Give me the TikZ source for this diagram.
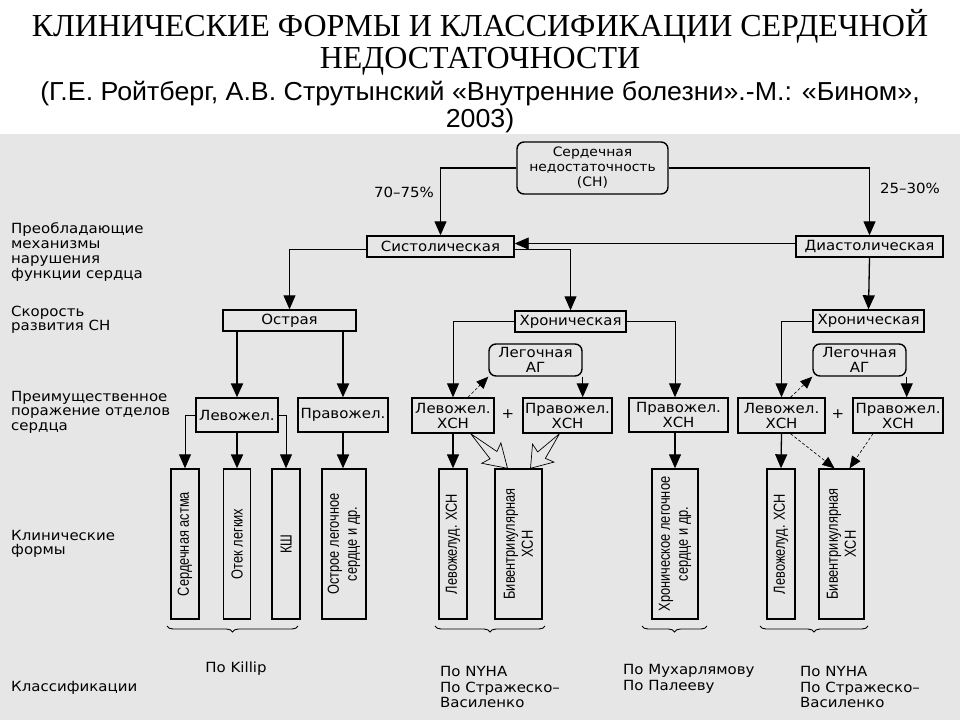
\documentclass[tikz,border=0pt]{standalone}
\usepackage{fontspec}
\setmainfont{Liberation Serif}
\newfontfamily\gothic[FakeStretch=1.07]{DejaVu Sans}
\newfontfamily\narrowf[FakeStretch=0.8]{Liberation Sans}
\newfontfamily\subf[FakeStretch=1.03]{Liberation Sans}
\usetikzlibrary{arrows.meta,calc,decorations.pathreplacing}
\definecolor{bggray}{RGB}{230,230,230}
\tikzset{
 box/.style={draw, line width=1.4pt, inner sep=0pt, font=\gothic\fontsize{14}{15}\selectfont, align=center},
 rbox/.style={box, rounded corners=7pt},
 vbox/.style={draw, line width=1.4pt, minimum height=150pt, inner sep=0pt},
 arr/.style={line width=1.3pt, -{Triangle[width=12pt,length=14pt]}},
 thickarr/.style={line width=2.2pt, -{Triangle[width=12pt,length=14pt]}},
 thinarr/.style={line width=0.9pt, -{Triangle[width=12pt,length=14pt]}},
 darr/.style={line width=0.6pt, densely dashed, -{Triangle[width=10pt,length=12pt]}},
 hollow/.style={line width=0.7pt, line join=miter},
 lbl/.style={font=\gothic\fontsize{14}{14.5}\selectfont, align=left, anchor=west, inner sep=0pt},
 vtext/.style={font=\narrowf\fontsize{16}{18}\selectfont, rotate=90, align=center, inner sep=0pt},
 curly/.style={decorate, decoration={brace, mirror, amplitude=6pt}, line width=0.9pt},
}
\begin{document}
\begin{tikzpicture}[x=1pt,y=-1pt]
\useasboundingbox (0,0) rectangle (960,720);
\fill[bggray] (0,134) rectangle (960,720);

% header
\node[anchor=base, inner sep=0pt, font=\fontsize{32}{36}\selectfont] (h1) at (480,36) {КЛИНИЧЕСКИЕ ФОРМЫ И КЛАССИФИКАЦИИ СЕРДЕЧНОЙ};
\node[anchor=base, inner sep=0pt, font=\fontsize{32}{36}\selectfont] (h2) at (480,68) {НЕДОСТАТОЧНОСТИ};
\node[anchor=base, inner sep=0pt, font=\subf\fontsize{26}{28}\selectfont] (h3) at (480,100) {(Г.Е. Ройтберг, А.В. Струтынский «Внутренние болезни».-М.: «Бином»,};
\node[anchor=base, inner sep=0pt, font=\subf\fontsize{26}{28}\selectfont] (h4) at (480,127) {2003)};

% left labels
\node[lbl, font=\gothic\fontsize{14}{15}\selectfont] (l1) at (11,252.5) {Преобладающие\\механизмы\\нарушения\\функции сердца};
\node[lbl] (l2) at (11,320) {Скорость\\развития СН};
\node[lbl] (l3) at (11,412) {Преимущественное\\поражение отделов\\сердца};
\node[lbl] (l4) at (11,544) {Клинические\\формы};
\node[lbl] (l5) at (11,688) {Классификации};

% boxes
\node[rbox, minimum width=151pt, minimum height=52pt, font=\gothic\fontsize{13}{15}\selectfont] (top) at (592.5,168) {Сердечная\\недостаточность\\(СН)};
\node[box, minimum width=147pt, minimum height=21pt] (sys) at (440.5,246.5) {Систолическая};
\node[box, minimum width=147pt, minimum height=21pt] (dia) at (869.5,246.5) {Диастолическая};
\node[box, minimum width=133pt, minimum height=21pt] (ostr) at (289.5,320.5) {Острая};
\node[box, minimum width=111pt, minimum height=21pt] (chr1) at (570.5,321.5) {Хроническая};
\node[box, minimum width=111pt, minimum height=22pt] (chr2) at (868.5,321) {Хроническая};
\node[rbox, minimum width=93pt, minimum height=32pt] (lag1) at (535.5,360) {Легочная\\АГ};
\node[rbox, minimum width=93pt, minimum height=32pt] (lag2) at (859.5,360) {Легочная\\АГ};
\node[box, minimum width=82pt, minimum height=34pt] (lev0) at (237,415) {Левожел.};
\node[box, minimum width=90pt, minimum height=34pt] (prav0) at (343,415) {Правожел.};
\node[box, minimum width=82pt, minimum height=35pt] (lev1) at (453,415.5) {Левожел.\\ХСН};
\node[box, minimum width=89pt, minimum height=35pt] (prav1) at (567.5,415.5) {Правожел.\\ХСН};
\node[box, minimum width=99pt, minimum height=34pt] (prav2) at (678.5,415) {Правожел.\\ХСН};
\node[box, minimum width=87pt, minimum height=35pt] (lev2) at (781.5,415.5) {Левожел.\\ХСН};
\node[box, minimum width=90pt, minimum height=35pt] (prav3) at (898,415.5) {Правожел.\\ХСН};
\node[font=\gothic\fontsize{14}{14}\selectfont, inner sep=0pt] (plus1) at (508,414) {+};
\node[font=\gothic\fontsize{14}{14}\selectfont, inner sep=0pt] (plus2) at (838,414) {+};

% percentages
\node[font=\gothic\fontsize{14}{14}\selectfont, inner sep=0pt] (p1) at (404,192) {70–75\%};
\node[font=\gothic\fontsize{14}{14}\selectfont, inner sep=0pt] (p2) at (910,188) {25–30\%};

% clinical form boxes
\node[vbox, minimum width=28pt] (f1) at (185,544) {};
\node[vbox, minimum width=27pt] (f2) at (237,544) {};
\node[vbox, minimum width=28pt] (f3) at (286,544) {};
\node[vbox, minimum width=44pt] (f4) at (344,544) {};
\node[vbox, minimum width=28pt] (f5) at (453,544) {};
\node[vbox, minimum width=47pt] (f6) at (518.5,544) {};
\node[vbox, minimum width=46pt] (f7) at (675,544) {};
\node[vbox, minimum width=28pt] (f8) at (781,544) {};
\node[vbox, minimum width=45pt] (f9) at (841.5,544) {};
\node[vtext] (t1) at (f1.center) {Сердечная астма};
\node[vtext] (t2) at (f2.center) {Отек легких};
\node[vtext] (t3) at (f3.center) {КШ};
\node[vtext] (t4) at (f4.center) {Острое легочное\\сердце и др.};
\node[vtext] (t5) at (f5.center) {Левожелуд. ХСН};
\node[vtext] (t6) at (f6.center) {Бивентрикулярная\\ХСН};
\node[vtext] (t7) at (f7.center) {Хроническое легочное\\сердце и др.};
\node[vtext] (t8) at (f8.center) {Левожелуд. ХСН};
\node[vtext] (t9) at (f9.center) {Бивентрикулярная\\ХСН};

% connectors
\draw[arr] (top.west) -| (sys.north);
\draw[arr] (top.east) -| (dia.north);
\draw[thinarr] ([yshift=3pt]dia.west) -- ([yshift=3pt]sys.east);
\draw[thinarr] ([yshift=-3pt]sys.west) -| (ostr.north);
\draw[thinarr] ([yshift=-3pt]sys.east) -| (chr1.north);
\draw[arr] (dia.south) -- (chr2.north);
\draw[thickarr] (lev0.north |- ostr.south) -- (lev0.north);
\draw[thickarr] (prav0.north |- ostr.south) -- (prav0.north);
\draw[thinarr] (lev0.west) -| (f1.north);
\draw[thickarr] (lev0.south) -- (f2.north);
\draw[thinarr] (lev0.east) -| (f3.north);
\draw[thickarr] (prav0.south) -- (prav0.south |- f4.north);
\draw[thinarr] (chr1.west) -| (lev1.north);
\draw[thinarr] (chr1.east) -| (f7.north |- prav2.north);
\draw[arr] (lag1.south east) -- (lag1.south east |- prav1.north);
\draw[darr] ([xshift=15pt]lev1.north) -- (lag1.south west);
\draw[arr] (lev1.south) -- (f5.north);
\draw[arr] (f7.north |- prav2.south) -- (f7.north);
\draw[thinarr] (chr2.west) -| (lev2.north);
\draw[arr] (lag2.south east) -- (lag2.south east |- prav3.north);
\draw[darr] ([xshift=9pt]lev2.north) -- (lag2.south west);
\draw[arr] (lev2.south) -- (f8.north);
\draw[darr] ([xshift=9pt]lev2.south) -- ([xshift=-7pt]f9.north);
\draw[darr] ([xshift=-25pt]prav3.south) -- ([xshift=8pt]f9.north);

% hollow block arrows
\coordinate (ha1) at ([xshift=-24pt]lev1.south east);
\coordinate (hb1) at ([xshift=-11pt]f6.north);
\coordinate (ha2) at ([xshift=-8pt]prav1.south);
\coordinate (hb2) at ([xshift=12pt]f6.north);
\draw[hollow] (ha1) -- ($(ha1)!0.62!(hb1)!5pt!90:(hb1)$) -- ($(ha1)!0.56!(hb1)!14pt!90:(hb1)$) -- (hb1) -- ($(ha1)!0.56!(hb1)!14pt!-90:(hb1)$) -- ($(ha1)!0.62!(hb1)!5pt!-90:(hb1)$) -- cycle;
\draw[hollow] (ha2) -- ($(ha2)!0.62!(hb2)!5pt!90:(hb2)$) -- ($(ha2)!0.56!(hb2)!14pt!90:(hb2)$) -- (hb2) -- ($(ha2)!0.56!(hb2)!14pt!-90:(hb2)$) -- ($(ha2)!0.62!(hb2)!5pt!-90:(hb2)$) -- cycle;

% braces
\draw[curly] (167,626) -- (298,626);
\draw[curly] (435,626) -- (545,626);
\draw[curly] (642,626) -- (707,626);
\draw[curly] (760,626) -- (868,626);

% classifications
\node[font=\gothic\fontsize{14}{15}\selectfont, inner sep=0pt] (c1) at (236,669) {По Killip};
\node[lbl, font=\gothic\fontsize{14}{15.5}\selectfont] (c2) at (440,687) {По NYHA\\По Стражеско–\\Василенко};
\node[lbl, font=\gothic\fontsize{14}{15.5}\selectfont] (c3) at (623,679) {По Мухарлямову\\По Палееву};
\node[lbl, font=\gothic\fontsize{14}{15.5}\selectfont] (c4) at (800,687) {По NYHA\\По Стражеско–\\Василенко};
\end{tikzpicture}
\end{document}
